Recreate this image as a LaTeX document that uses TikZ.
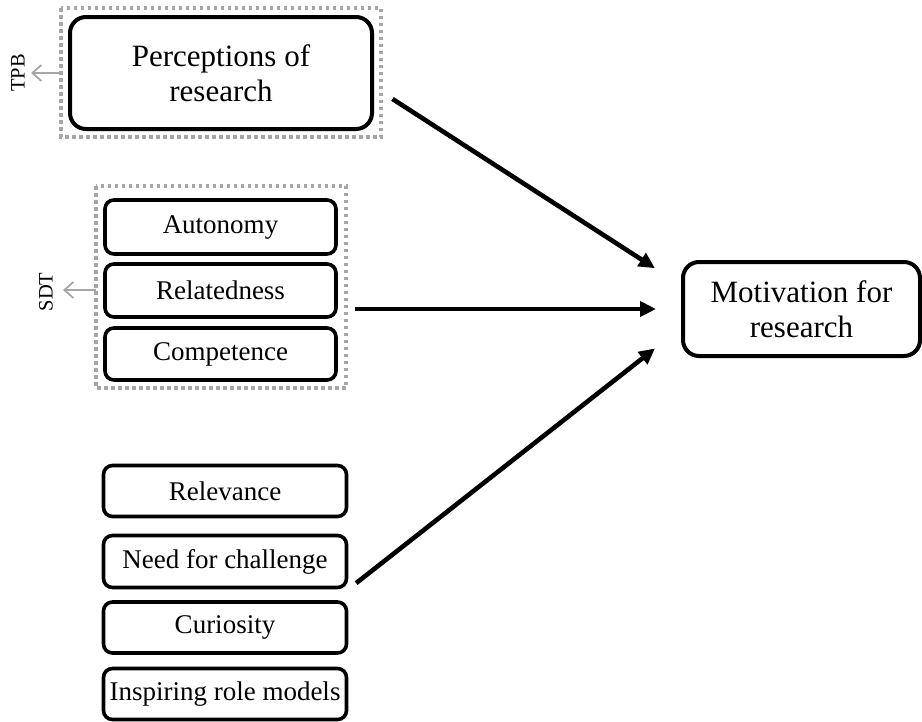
\documentclass[tikz,border=0pt]{standalone}
\usepackage{fontspec}
\setmainfont{Liberation Serif}
\usetikzlibrary{arrows.meta}
\begin{document}
\begin{tikzpicture}[x=1pt,y=1pt,
		bigbox/.style={draw=black, line width=4pt, rounded corners=16pt, align=center, inner sep=0pt, font=\fontsize{31}{35}\selectfont},
		smallbox/.style={draw=black, line width=3.6pt, rounded corners=9pt, align=center, inner sep=0pt, font=\fontsize{27}{30}\selectfont},
		groupbox/.style={draw=black!35, line width=3.5pt, dash pattern=on 3.5pt off 3.5pt},
		theory/.style={rotate=90, inner sep=0pt, font=\fontsize{20.5}{22}\selectfont},
		flow/.style={draw=black, line width=4.6pt, -{Triangle[length=16pt,width=15pt]}},
		pointer/.style={draw=black!35, line width=1.8pt, -{Straight Barb[length=9pt,width=16pt]}}]
			\useasboundingbox (0,0) rectangle (922,-721);
			% theory groups
			\draw [groupbox] (61,-8) rectangle (381,-137);
			\coordinate (tpbbox) at (61,-73);
			\draw [groupbox] (96,-186) rectangle (346,-388);
			\coordinate (sdtbox) at (96,-290);
			\coordinate (sdtright) at (346,-309);
			\node [theory] (tpb) at (18,-73) {TPB};
			\node [theory] (sdt) at (46,-292) {SDT};
			% factors
			\node [bigbox, minimum width=302pt, minimum height=112pt] (perc) at (221,-73) {Perceptions of\\research};
			\node [smallbox, minimum width=231pt, minimum height=54pt] (auto) at (220.5,-227) {Autonomy};
			\node [smallbox, minimum width=231pt, minimum height=53pt] (rel) at (220.5,-290.5) {Relatedness};
			\node [smallbox, minimum width=231pt, minimum height=52pt] (comp) at (220.5,-354) {Competence};
			\node [smallbox, minimum width=243pt, minimum height=51pt] (relev) at (225,-491) {Relevance};
			\node [smallbox, minimum width=243pt, minimum height=52pt] (need) at (225,-561.5) {Need for challenge};
			\node [smallbox, minimum width=243pt, minimum height=51pt] (curio) at (225,-627.5) {Curiosity};
			\node [smallbox, minimum width=243pt, minimum height=51pt] (role) at (225,-694) {Inspiring role models};
			% outcome
			\node [bigbox, minimum width=237pt, minimum height=94pt] (motiv) at (801.5,-309) {Motivation for\\research};
			% links
			\draw [pointer] (tpbbox) -- (31,-73);
			\draw [pointer] (sdtbox) -- (63,-290);
			\draw [flow, shorten <=22pt, shorten >=31pt] ([yshift=-14pt]perc.east) -- ([yshift=24pt]motiv.west);
			\draw [flow, shorten <=9pt, shorten >=25pt] (sdtright) -- (motiv.west);
			\draw [flow, shorten <=10pt, shorten >=33pt] (need.south east) -- ([yshift=-19pt]motiv.west);
		\end{tikzpicture}
\end{document}
